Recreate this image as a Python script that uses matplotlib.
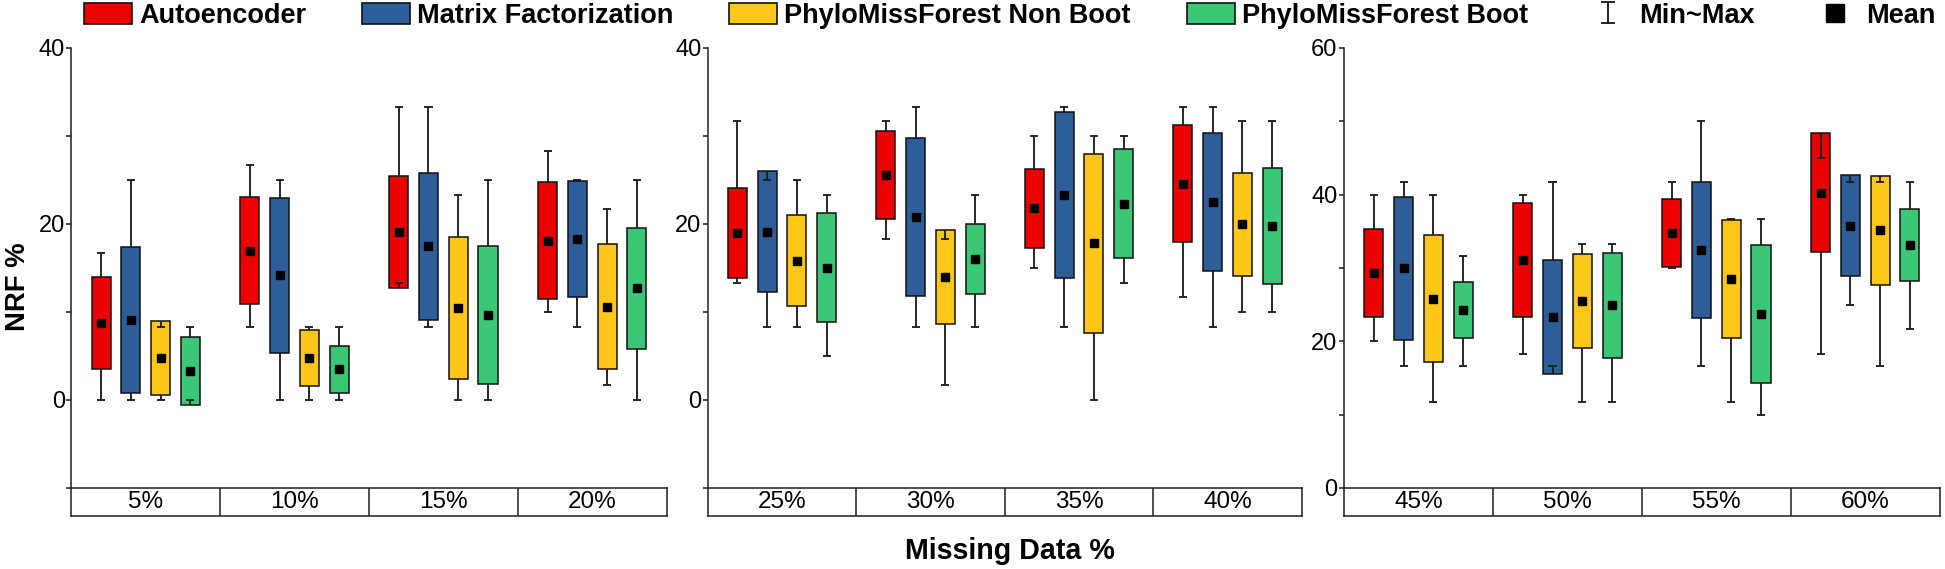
import numpy as np
import matplotlib
matplotlib.use('Agg')
import matplotlib.pyplot as plt
import matplotlib.patches as mpatches
from matplotlib.lines import Line2D
from matplotlib import font_manager
from matplotlib.font_manager import FontProperties
from matplotlib.textpath import TextPath
from matplotlib.container import ErrorbarContainer
from matplotlib.legend_handler import HandlerErrorbar

methods = ['Autoencoder', 'Matrix Factorization', 'PhyloMissForest Non Boot', 'PhyloMissForest Boot']
colors = ['#EC0000', '#2E5E9A', '#FFC61A', '#3AC776']

# rows = missing level, cols = method (same order as `methods`)
levels_a = ['5%', '10%', '15%', '20%']
mean_a = [[8.76, 9.11, 4.77, 3.32],
          [16.97, 14.15, 4.77, 3.48],
          [19.12, 17.44, 10.44, 9.62],
          [18.10, 18.26, 10.60, 12.67]]
sd_a = [[5.24, 8.31, 4.17, 3.84],
        [6.08, 8.84, 3.19, 2.68],
        [6.35, 8.31, 8.09, 7.86],
        [6.63, 6.59, 7.12, 6.92]]
min_a = [[0, 0, 0, 0],
         [8.33, 0, 0, 0],
         [13.33, 8.33, 0, 0],
         [10.0, 8.33, 1.67, 0]]
max_a = [[16.67, 25.0, 8.33, 8.33],
         [26.67, 25.0, 8.33, 8.33],
         [33.33, 33.33, 23.33, 25.0],
         [28.33, 25.0, 21.67, 25.0]]

levels_b = ['25%', '30%', '35%', '40%']
mean_b = [[18.96, 19.12, 15.80, 15.01],
          [25.57, 20.76, 13.96, 15.99],
          [21.78, 23.30, 17.79, 22.29],
          [24.59, 22.48, 19.94, 19.82]]
sd_b = [[5.07, 6.88, 5.16, 6.18],
        [5.02, 8.98, 5.32, 3.97],
        [4.46, 9.43, 10.17, 6.20],
        [6.61, 7.88, 5.88, 6.59]]
min_b = [[13.33, 8.33, 8.33, 5.0],
         [18.33, 8.33, 1.67, 8.33],
         [15.0, 8.33, 0, 13.33],
         [11.67, 8.33, 10.0, 10.0]]
max_b = [[31.67, 25.0, 25.0, 23.33],
         [31.67, 33.33, 18.33, 23.33],
         [30.0, 33.33, 30.0, 30.0],
         [33.33, 33.33, 31.67, 31.67]]

levels_c = ['45%', '50%', '55%', '60%']
mean_c = [[29.30, 29.95, 25.77, 24.27],
          [31.08, 23.29, 25.54, 24.88],
          [34.74, 32.44, 28.45, 23.76],
          [40.28, 35.77, 35.12, 33.10]]
sd_c = [[5.97, 9.77, 8.66, 3.76],
        [7.77, 7.73, 6.41, 7.18],
        [4.63, 9.23, 8.06, 9.39],
        [8.10, 6.88, 7.40, 4.93]]
min_c = [[20.0, 16.67, 11.67, 16.67],
         [18.33, 16.67, 11.67, 11.67],
         [30.0, 16.67, 11.67, 10.0],
         [18.33, 25.0, 16.67, 21.67]]
max_c = [[40.0, 41.67, 40.0, 31.67],
         [40.0, 41.67, 33.33, 33.33],
         [41.67, 50.0, 36.67, 36.67],
         [45.0, 41.67, 41.67, 41.67]]


def bold_condensed_file():
    # look for a condensed bold face; the reference uses a Helvetica Condensed look
    cands = ['Liberation Sans Narrow', 'Noto Sans', 'Open Sans', 'Roboto', 'Lato', 'Inter']
    for name in cands:
        found = []
        for f in font_manager.fontManager.ttflist:
            if f.name != name or f.style != 'normal':
                continue
            w = f.weight
            if isinstance(w, str):
                w = font_manager.weight_dict.get(w, 400)
            st = str(f.stretch)
            if name != 'Liberation Sans Narrow' and 'condensed' not in st:
                continue
            if w == 700:
                order = {'condensed': 0, 'semi-condensed': 1}.get(st, 2)
                found.append((order, f.fname))
        if found:
            return sorted(found)[0][1]
    return None


cond = bold_condensed_file()
if cond:
    bold_fp = FontProperties(fname=cond)
else:
    bold_fp = FontProperties(family='Liberation Sans', weight='bold')
regular = 'Liberation Sans'


def sized(fp, text, target_px):
    # font size (pt) that makes `text` about target_px wide at 100 dpi
    w = TextPath((0, 0), text, size=100, prop=fp).get_extents().width
    p = fp.copy()
    p.set_size(target_px * 72.0 / w)
    return p


line_c = '#1e1e1e'


def draw_panel(ax, tab, levels, mean, sd, vmin, vmax, ylim, major, minor):
    for i in range(len(levels)):
        for j in range(len(methods)):
            x = i + 0.2 + 0.2 * j
            m, s = mean[i][j], sd[i][j]
            lo, hi = m - s, m + s
            ax.bar(x, hi - lo, bottom=lo, width=0.128, color=colors[j],
                   edgecolor='#111111', linewidth=1.1, zorder=2)
            ax.vlines(x, hi, vmax[i][j], color=line_c, lw=1.35, zorder=3)
            ax.vlines(x, vmin[i][j], lo, color=line_c, lw=1.35, zorder=3)
            ax.hlines([vmin[i][j], vmax[i][j]], x - 0.027, x + 0.027,
                      color=line_c, lw=1.35, zorder=3)
            ax.plot(x, m, 's', color='k', ms=6, zorder=4)
    ax.set_xlim(0, len(levels))
    ax.set_ylim(*ylim)
    ax.set_xticks([])
    ax.set_yticks(major)
    ax.set_yticks(minor, minor=True)
    for sp in ['top', 'right', 'bottom']:
        ax.spines[sp].set_visible(False)
    ax.spines['left'].set_color(line_c)
    ax.spines['left'].set_linewidth(1.1)
    ax.tick_params(which='both', direction='out', length=3.6, width=1.1,
                   color=line_c, labelsize=17, pad=1)
    for lab in ax.get_yticklabels():
        lab.set_fontfamily(regular)

    tab.set_xlim(0, len(levels))
    tab.set_ylim(0, 1)
    tab.set_xticks([])
    tab.set_yticks([])
    for sp in tab.spines.values():
        sp.set_color(line_c)
        sp.set_linewidth(1.1)
    tab.vlines(range(1, len(levels)), 0, 1, color=line_c, lw=1.1)
    for i, lv in enumerate(levels):
        tab.text(i + 0.5, 0.5, lv, ha='center', va='center', fontsize=17.5,
                 family=regular)


fig = plt.figure(figsize=(19.45, 5.69), dpi=100, facecolor='w')
bottom, height = 0.1424, 0.7734
tab_bottom, tab_height = 0.0931, 0.0493
panels = [(0.0367, 0.3060), (0.3639, 0.3054), (0.6910, 0.3063)]

setup = [
    (levels_a, mean_a, sd_a, min_a, max_a, (-10, 40), [0, 20, 40], [-10, 10, 30]),
    (levels_b, mean_b, sd_b, min_b, max_b, (-10, 40), [0, 20, 40], [-10, 10, 30]),
    (levels_c, mean_c, sd_c, min_c, max_c, (0, 60), [0, 20, 40, 60], [10, 30, 50]),
]
for (left, width), args in zip(panels, setup):
    ax = fig.add_axes([left, bottom, width, height])
    tab = fig.add_axes([left, tab_bottom, width, tab_height])
    draw_panel(ax, tab, *args)

fig.text(18 / 1945, 1 - 287 / 569, 'NRF %', rotation=90, ha='center', va='center',
         fontproperties=sized(bold_fp, 'NRF %', 86))
fig.text(1010 / 1945, 1 - 551 / 569, 'Missing Data %', ha='center', va='center',
         fontproperties=sized(bold_fp, 'Missing Data %', 207))

# legend
leg_fp = sized(bold_fp, 'Autoencoder', 166)
fs = leg_fp.get_size() * 100 / 72.0  # font size in px
handles = [mpatches.Patch(facecolor=c, edgecolor='#111111', linewidth=1.2) for c in colors]
eb = ax.errorbar([np.nan], [np.nan], yerr=[[1], [1]], fmt='none', ecolor='k',
                 elinewidth=1.2, capsize=5, capthick=1.2)
handles.append(eb)
handles.append(Line2D([], [], marker='s', color='k', ls='none', ms=13))
labels = methods + ['Min~Max', 'Mean']
fig.legend(handles, labels, loc='center', bbox_to_anchor=(0.519, 0.972), ncol=6,
           frameon=False, handlelength=48 / fs, handleheight=23 / fs,
           handletextpad=7 / fs, columnspacing=56 / fs, borderaxespad=0, borderpad=0,
           prop=leg_fp,
           handler_map={ErrorbarContainer: HandlerErrorbar(xerr_size=10.5 / fs)})

fig.savefig('out.png', dpi=100, facecolor='w')
